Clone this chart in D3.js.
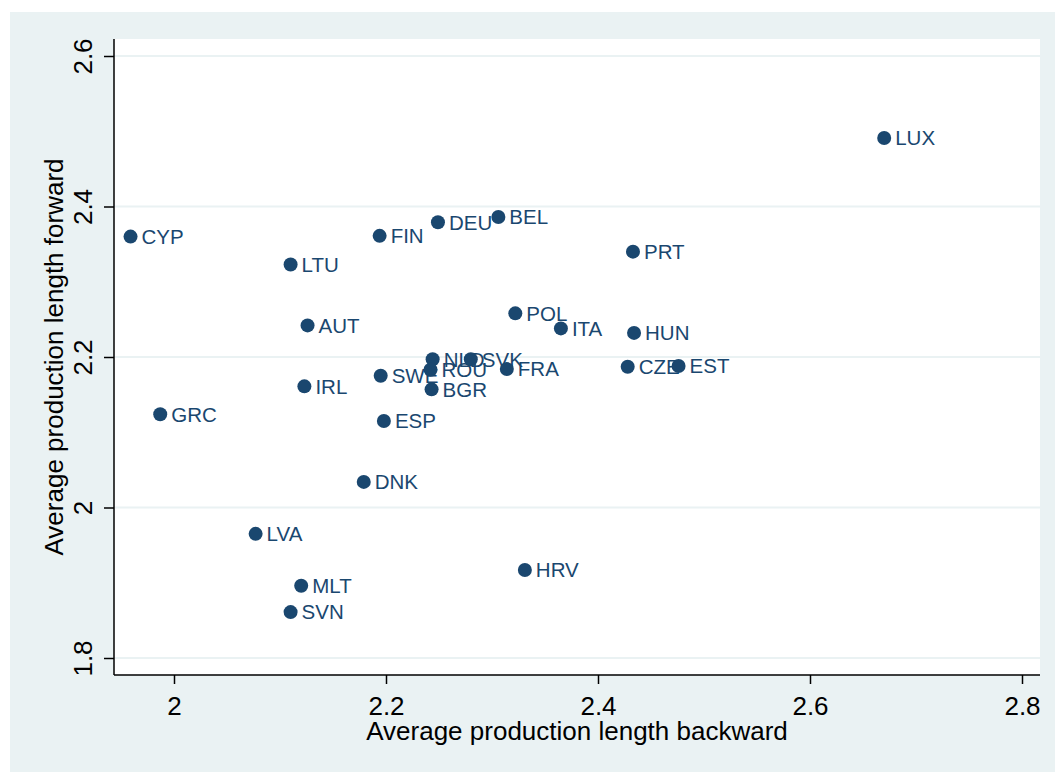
<!DOCTYPE html>
<html>
<head>
<meta charset="utf-8">
<script src="https://cdn.jsdelivr.net/npm/d3@7"></script>
<style>
  body { margin: 0; background: #fff; }
  svg text { font-family: "Liberation Sans", Arial, sans-serif; }
</style>
</head>
<body>
<div id="wrapper"></div>
<script>
// country codes and the two average production lengths
const countries = ["CYP","GRC","LTU","AUT","IRL","LVA","MLT","SVN","DNK","FIN","SWE","ESP",
  "DEU","NLD","ROU","BGR","SVK","FRA","BEL","POL","ITA","HRV","PRT","HUN","CZE","EST","LUX"];
const backward = [1.959,1.987,2.110,2.126,2.123,2.077,2.120,2.110,2.179,2.194,2.195,2.198,
  2.249,2.244,2.242,2.243,2.280,2.314,2.306,2.322,2.365,2.331,2.433,2.434,2.428,2.476,2.670];
const forward = [2.360,2.124,2.323,2.242,2.161,1.965,1.896,1.861,2.034,2.361,2.175,2.115,
  2.379,2.197,2.183,2.157,2.197,2.184,2.386,2.258,2.238,1.917,2.340,2.232,2.187,2.188,2.491];
const xTicks = [2, 2.2, 2.4, 2.6, 2.8];
const yTicks = [1.8, 2, 2.2, 2.4, 2.6];

const W = 1055, H = 772;
const plot = {left: 114, right: 1040, top: 39, bottom: 675};
const navy = "#1a476f";

const data = countries.map((c, i) => ({name: c, x: backward[i], y: forward[i]}));

const svg = d3.select("#wrapper").append("svg")
  .attr("width", W).attr("height", H);

// outer graph region
svg.append("rect").attr("x", 10).attr("y", 12)
  .attr("width", W - 10).attr("height", H - 12).attr("fill", "#eaf2f3");
svg.append("rect").attr("x", plot.left).attr("y", plot.top)
  .attr("width", plot.right - plot.left).attr("height", plot.bottom - plot.top)
  .attr("fill", "#fff");

const xScale = d3.scaleLinear().domain([2, 2.8]).range([174, 1022]);
const yScale = d3.scaleLinear().domain([1.8, 2.6]).range([658, 56]);

// grid lines
svg.append("g").selectAll("line").data(yTicks).enter().append("line")
  .attr("x1", plot.left).attr("x2", plot.right)
  .attr("y1", d => yScale(d)).attr("y2", d => yScale(d))
  .attr("stroke", "#eaf2f3").attr("stroke-width", 2);

const xAxis = d3.axisBottom(xScale).tickValues(xTicks).tickSize(9).tickPadding(13)
  .tickFormat(d3.format("~g"));
const yAxis = d3.axisLeft(yScale).tickValues(yTicks).tickSize(10).tickPadding(4)
  .tickFormat(d3.format("~g"));

const gx = svg.append("g").attr("transform", `translate(0,${plot.bottom})`).call(xAxis);
gx.select(".domain").attr("d", `M${plot.left},0H${plot.right}`);
const gy = svg.append("g").attr("transform", `translate(${plot.left},0)`).call(yAxis);
gy.select(".domain").attr("d", `M0,${plot.top}V${plot.bottom}`);

[gx, gy].forEach(g => {
  g.select(".domain").attr("stroke", "#000").attr("stroke-width", 1.5);
  g.selectAll(".tick line").attr("stroke", "#000").attr("stroke-width", 1.5);
  g.selectAll(".tick text").attr("fill", "#000").style("font-size", "26px");
});

gy.selectAll(".tick text")
  .attr("x", 0).attr("dy", 0)
  .attr("text-anchor", "middle")
  .attr("transform", "translate(-22,0) rotate(-90)");

// axis titles
svg.append("text").attr("x", (plot.left + plot.right) / 2).attr("y", 740)
  .attr("text-anchor", "middle").style("font-size", "26px").attr("fill", "#000")
  .text("Average production length backward");
svg.append("text")
  .attr("transform", `translate(63,${(plot.top + plot.bottom) / 2}) rotate(-90)`)
  .attr("text-anchor", "middle").style("font-size", "26px").attr("fill", "#000")
  .text("Average production length forward");

// markers and labels
const pts = svg.append("g").selectAll("g").data(data).enter().append("g")
  .attr("transform", d => `translate(${xScale(d.x)},${yScale(d.y)})`);
pts.append("circle").attr("r", 7).attr("fill", navy);
pts.append("text").attr("x", 11).attr("dy", "0.36em")
  .style("font-size", "20.5px").attr("fill", navy)
  .text(d => d.name);
</script>
</body>
</html>
